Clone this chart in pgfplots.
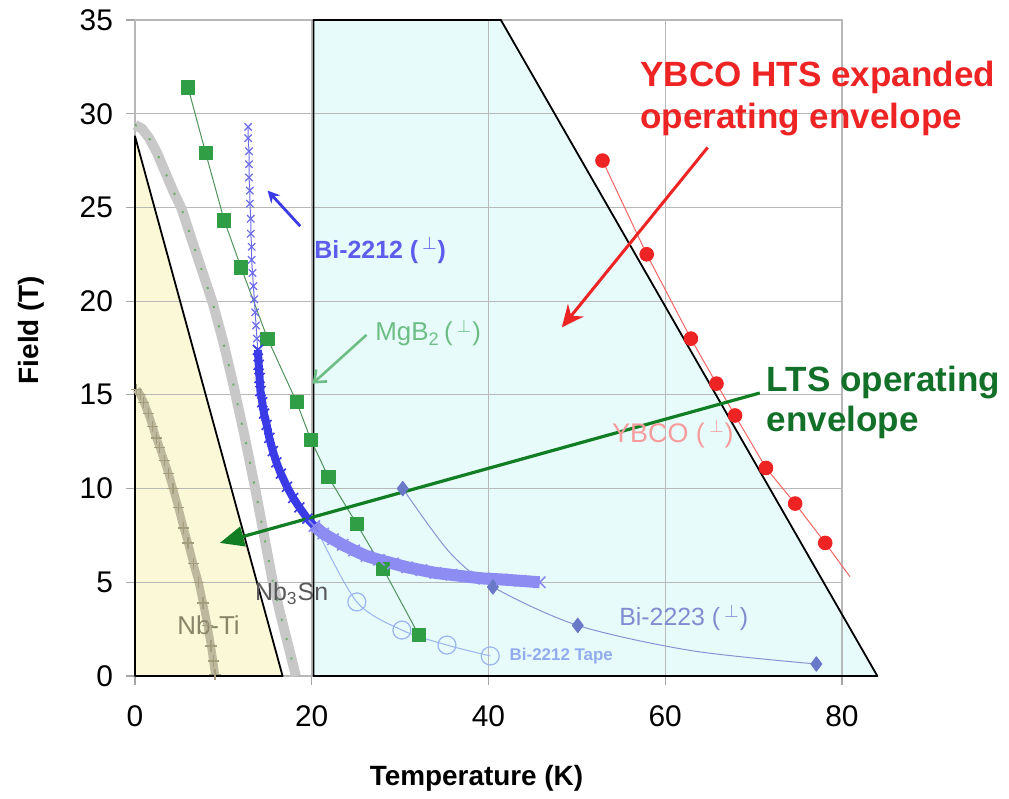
\documentclass[border=0pt]{standalone}
\usepackage{fontspec}
\setmainfont{Liberation Sans}
\usepackage{pgfplots}
\pgfplotsset{compat=1.18}
\usetikzlibrary{arrows.meta}

\definecolor{ltsfill}{HTML}{FBF8D8}
\definecolor{htsfill}{HTML}{E8FBFB}
\definecolor{ltsgreen}{HTML}{137028}
\definecolor{ybcored}{HTML}{EE2323}
\definecolor{mgbgreen}{HTML}{2F9E44}
\definecolor{mgblabel}{HTML}{6DBE85}
\definecolor{bidark}{HTML}{3A3AE6}
\definecolor{bimid}{HTML}{6D6DEA}
\definecolor{bilight}{HTML}{8C8CF2}
\definecolor{tape}{HTML}{9AB4EE}
\definecolor{bitwo}{HTML}{6A78C8}
\definecolor{nbsn}{HTML}{C8C8C8}
\definecolor{nbti}{HTML}{BDB89E}
\definecolor{nbtimark}{HTML}{A39D7C}

\newcommand\pp{(\,$^{\perp}$)}

\begin{document}
\begin{tikzpicture}
\begin{axis}[
  name=ax, set layers,
  scale only axis, width=353.5bp, height=328bp,
  xmin=0, xmax=80, ymin=0, ymax=35,
  xtick={0,20,40,60,80}, ytick={0,5,...,35},
  grid=major,
  grid style={color=black!28, line width=0.6bp},
  axis line style={color=black!28, line width=0.6bp},
  tick style={color=black!35, line width=0.6bp},
  tick align=outside, tick pos=left, major tick length=4.5bp,
  /pgf/number format/assume math mode=true,
  ticklabel style={font=\fontsize{15}{17}\selectfont},
  xticklabel style={yshift=-7bp},
  yticklabel style={xshift=-3bp},
  clip=false,
  every axis plot/.append style={line join=round},
]

% operating envelopes
\addplot[on layer=axis background, fill=ltsfill, draw=none]
  coordinates {(0,0) (0,28.8) (16.7,0)} --cycle;
\addplot[on layer=axis background, fill=htsfill, draw=none]
  coordinates {(20.2,0) (20.2,35) (41.4,35) (84,0)} --cycle;
\addplot[black, line width=0.9bp]
  coordinates {(0,0) (0,28.8) (16.7,0)} --cycle;
\addplot[black, line width=0.9bp]
  coordinates {(20.2,0) (20.2,35) (41.4,35) (84,0)} --cycle;

% Nb-Ti
\addplot[nbti, line width=4bp, mark=+, mark size=2.8bp,
  mark options={nbtimark, line width=0.6bp}]
  coordinates {(0.2,15.3) (0.6,15.0) (1.0,14.6) (1.5,14.0) (2.0,13.3)
    (2.4,12.7) (2.8,12.2) (3.3,11.5) (3.8,10.8) (4.3,10.0) (4.9,9.0)
    (5.5,7.9) (6.0,7.1) (6.6,6.0) (7.2,5.0) (7.7,3.9) (8.2,2.7)
    (8.6,1.6) (8.85,0.8) (9.05,0.1)};

% Nb3Sn
\addplot[nbsn, line width=5bp]
  coordinates {(0,29.4) (0.8,29.2) (1.6,28.7) (2.5,27.9) (3.4,26.9)
    (4.3,25.9) (5.3,24.9) (6.4,23.3) (7.6,21.6) (8.8,19.9) (10,17.8)
    (11.1,15.6) (12.4,12.8) (13.6,10.0) (14.6,7.5) (15.6,5.0)
    (16.5,3.2) (17.3,1.7) (18.2,0)};
\addplot[black!55!green!60, line width=0.9bp, dash pattern=on 1bp off 9bp]
  coordinates {(0,29.4) (0.8,29.2) (1.6,28.7) (2.5,27.9) (3.4,26.9)
    (4.3,25.9) (5.3,24.9) (6.4,23.3) (7.6,21.6) (8.8,19.9) (10,17.8)
    (11.1,15.6) (12.4,12.8) (13.6,10.0) (14.6,7.5) (15.6,5.0)
    (16.5,3.2) (17.3,1.7) (18.2,0)};

% MgB2
\addplot[mgbgreen!60!gray, line width=0.5bp, mark=square*, mark size=3.3bp,
  mark options={fill=mgbgreen, draw=mgbgreen}]
  coordinates {(6.0,31.4) (8.0,27.9) (10.1,24.3) (12.0,21.8) (15.0,18.0)
    (18.3,14.6) (19.9,12.6) (21.9,10.6) (25.1,8.1) (28.1,5.7) (32.1,2.2)};

% Bi-2212 tape
\addplot[tape, line width=0.5bp, smooth, mark=o, mark size=4.5bp,
  mark indices={2,3,4,5}, mark options={tape, line width=0.6bp}]
  coordinates {(20.6,7.8) (25.1,3.95) (30.2,2.45) (35.3,1.65) (40.2,1.07)};

% Bi-2223
\addplot[bitwo!80, line width=0.5bp, smooth, mark=diamond*, mark size=3.6bp,
  mark indices={1,3,4,6}, mark options={fill=bitwo, draw=bitwo}]
  coordinates {(30.3,10.0) (35.6,6.6) (40.5,4.75) (50.1,2.7)
    (63.0,1.35) (77.1,0.64)};

% Bi-2212
\addplot[bimid, line width=0.5bp, mark=x, mark size=2.6bp,
  mark options={line width=0.6bp}]
  coordinates {(12.8,29.3) (12.8,28.7) (12.9,28.0) (12.9,27.3) (12.9,26.6)
    (13.0,25.9) (13.0,25.2) (13.1,24.4) (13.1,23.6) (13.2,22.9)
    (13.2,22.2) (13.3,21.5) (13.4,20.8) (13.5,20.1) (13.6,19.4)
    (13.7,18.7) (13.8,18.0) (13.9,17.4)};
\addplot[bidark, line width=4bp, mark=x, mark size=3.5bp,
  mark options={line width=0.8bp}]
  coordinates {(13.9,17.4) (14.0,16.6) (14.1,15.9) (14.2,15.2) (14.4,14.6)
    (14.6,14.0) (14.9,13.4) (15.2,12.7) (15.6,12.0) (16.0,11.4)
    (16.5,10.8) (17.2,10.1) (17.9,9.5) (18.6,9.0) (19.5,8.4) (20.3,8.0)};
\addplot[bilight, line width=6bp, mark=x, mark size=4bp,
  mark options={line width=0.8bp}]
  coordinates {(20.3,8.0) (21.3,7.6) (22.4,7.3) (23.5,7.0) (24.8,6.7)
    (26.2,6.4) (27.6,6.2) (29.2,6.0) (30.8,5.8) (32.4,5.65) (34.0,5.5)
    (35.8,5.4) (37.5,5.3) (39.5,5.2) (41.5,5.15) (43.6,5.08) (45.8,5.0)};

% YBCO
\addplot[ybcored!70, line width=0.5bp, mark=*, mark size=3.4bp,
  mark indices={1,...,8}, mark options={fill=ybcored, draw=ybcored}]
  coordinates {(52.9,27.5) (57.9,22.5) (62.9,18.0) (65.8,15.6) (67.9,13.9)
    (71.4,11.1) (74.7,9.2) (78.1,7.1) (80.9,5.3)};

% annotations
\draw[bidark, line width=1.4bp, -{Stealth[length=6bp,width=6bp]}]
  (axis cs:18.7,24.0) -- (axis cs:15.0,25.9);
\draw[mgblabel, line width=1.3bp, -{Straight Barb[length=5bp,width=8bp]}]
  (axis cs:26.2,18.2) -- (axis cs:20.1,15.6);
\draw[ybcored, line width=1.5bp, -{Stealth[length=11bp,width=10bp]}]
  (axis cs:64.8,28.2) -- (axis cs:48.3,18.6);
\draw[ltsgreen!90!green, line width=1.6bp, -{Triangle[length=12bp,width=10bp]}]
  (axis cs:70.7,15.1) -- (axis cs:9.6,7.1);

\node[anchor=west, text=bimid!85!blue, font=\bfseries\fontsize{12.5}{14}\selectfont]
  at (axis cs:19.5,22.7) {Bi-2212 \pp};
\node[anchor=west, text=mgblabel, font=\fontsize{13}{15}\selectfont]
  at (axis cs:26.4,18.3) {MgB\textsubscript{2}\,\pp};
\node[anchor=west, text=ybcored!45, font=\fontsize{13.5}{15}\selectfont]
  at (axis cs:53.2,12.9) {YBCO \pp};
\node[anchor=west, text=bitwo!85, font=\fontsize{12.5}{14}\selectfont]
  at (axis cs:54.0,3.1) {Bi-2223 \pp};
\node[anchor=west, text=tape!95!blue, font=\bfseries\fontsize{8.5}{10}\selectfont]
  at (axis cs:41.6,1.07) {Bi-2212 Tape};
\node[anchor=west, text=black!65, font=\fontsize{12.5}{14}\selectfont]
  at (axis cs:12.8,4.4) {Nb\textsubscript{3}Sn};
\node[anchor=west, text=nbtimark!85!black, font=\fontsize{13}{15}\selectfont]
  at (axis cs:4.0,2.7) {Nb-Ti};
\node[anchor=west, align=left, text=ybcored, font=\bfseries\fontsize{17.6}{21}\selectfont]
  at (axis cs:56.4,30.8) {YBCO HTS expanded\\operating envelope};
\node[anchor=west, align=left, text=ltsgreen, font=\bfseries\fontsize{17.6}{20}\selectfont]
  at (axis cs:70.7,14.6) {LTS operating\\envelope};
\end{axis}

\node[rotate=90, font=\bfseries\fontsize{14}{16}\selectfont]
  at ([xshift=-52bp,yshift=9bp]ax.west) {Field (T)};
\node[font=\bfseries\fontsize{14}{16}\selectfont]
  at ([xshift=-6bp,yshift=-51bp]ax.south) {Temperature (K)};

\pgfresetboundingbox
\path[use as bounding box] ([xshift=-67.5bp,yshift=-61.5bp]ax.south west)
  rectangle ([xshift=83.5bp,yshift=10bp]ax.north east);
\end{tikzpicture}
\end{document}
